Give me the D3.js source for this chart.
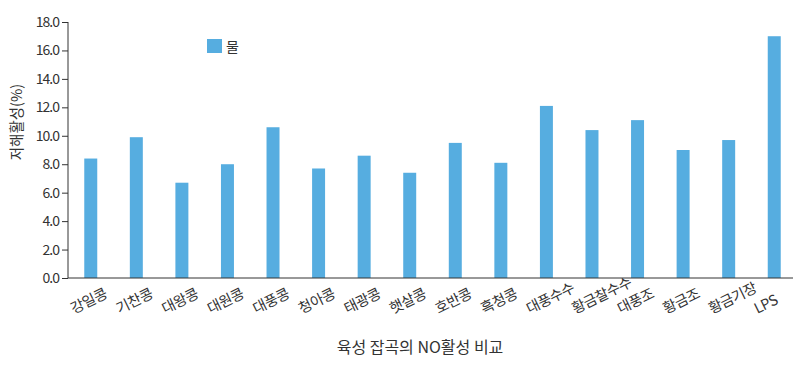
<!DOCTYPE html>
<html>
<head>
<meta charset="utf-8">
<script src="https://cdn.jsdelivr.net/npm/d3@7"></script>
<style>
  body { margin: 0; background: #fff; }
  text { font-family: "Noto Sans CJK KR", "Noto Sans", sans-serif; fill: #333; }
</style>
</head>
<body>
<div id="chart"></div>
<script>
var categories = ["강일콩", "기찬콩", "대왕콩", "대원콩", "대풍콩", "청아콩", "태광콩", "햇살콩",
  "호반콩", "흑청콩", "대풍수수", "황금찰수수", "대풍조", "황금조", "황금기장", "LPS"];
var values = [8.4, 9.9, 6.7, 8.0, 10.6, 7.7, 8.6, 7.4, 9.5, 8.1, 12.1, 10.4, 11.1, 9.0, 9.7, 17.0];
var yTicks = [0, 2, 4, 6, 8, 10, 12, 14, 16, 18];
var seriesName = "물";
var yTitle = "저해활성(%)";
var xTitle = "육성 잡곡의 NO활성 비교";

var svgWidth = 800;
var svgHeight = 368;
var margin = { top: 22, right: 3, bottom: 90, left: 68 };
var width = svgWidth - margin.left - margin.right;
var height = svgHeight - margin.top - margin.bottom;
var barColor = "#56ade0";

var svg = d3.select("#chart")
  .append("svg")
  .attr("width", svgWidth)
  .attr("height", svgHeight);

var chartGroup = svg.append("g")
  .attr("transform", `translate(${margin.left}, ${margin.top})`);

var xScale = d3.scaleBand()
  .domain(categories)
  .range([0, width])
  .paddingInner(0.715)
  .paddingOuter(0.357);

var yScale = d3.scaleLinear()
  .domain([0, 18])
  .range([height, 0]);

// bars
chartGroup.selectAll("rect.bar")
  .data(values)
  .enter()
  .append("rect")
  .attr("class", "bar")
  .attr("x", (d, i) => xScale(categories[i]))
  .attr("y", d => yScale(d))
  .attr("width", xScale.bandwidth())
  .attr("height", d => height - yScale(d))
  .attr("fill", barColor);

// y axis
var leftAxis = d3.axisLeft(yScale)
  .tickValues(yTicks)
  .tickSize(6)
  .tickPadding(3)
  .tickFormat(d3.format(".1f"));

var yAxis = chartGroup.append("g").call(leftAxis);
yAxis.select(".domain").attr("stroke", "#333").attr("d", `M0,0V${height}`);
yAxis.selectAll(".tick line").attr("stroke", "#333");
yAxis.selectAll("text")
  .attr("font-size", "14px")
  .attr("letter-spacing", "-1px")
  .style("fill", "#333");

// x axis
var bottomAxis = d3.axisBottom(xScale).tickSize(0).tickFormat("");
var xAxis = chartGroup.append("g")
  .attr("transform", `translate(0, ${height})`)
  .call(bottomAxis);
xAxis.select(".domain").attr("stroke", "#333").attr("d", `M0,0H${width - 4}`);

// x labels rotated
chartGroup.selectAll("text.xlab")
  .data(categories)
  .enter()
  .append("text")
  .attr("class", "xlab")
  .attr("font-size", "14.5px")
  .attr("letter-spacing", "-0.5px")
  .attr("text-anchor", "start")
  .attr("transform", d => {
    var x = xScale(d) + xScale.bandwidth() / 2 - 17;
    var y = height + 36;
    return `translate(${x}, ${y}) rotate(-26)`;
  })
  .text(d => d);

// axis titles
svg.append("text")
  .attr("transform", `translate(22, 122) rotate(-90)`)
  .attr("text-anchor", "middle")
  .attr("font-size", "14.5px")
  .text(yTitle);

svg.append("text")
  .attr("x", 420)
  .attr("y", 353)
  .attr("text-anchor", "middle")
  .attr("font-size", "16px")
  .text(xTitle);

// legend
svg.append("rect")
  .attr("x", 207)
  .attr("y", 39)
  .attr("width", 15)
  .attr("height", 14)
  .attr("fill", barColor);

svg.append("text")
  .attr("x", 226)
  .attr("y", 52)
  .attr("font-size", "14px")
  .text(seriesName);
</script>
</body>
</html>
